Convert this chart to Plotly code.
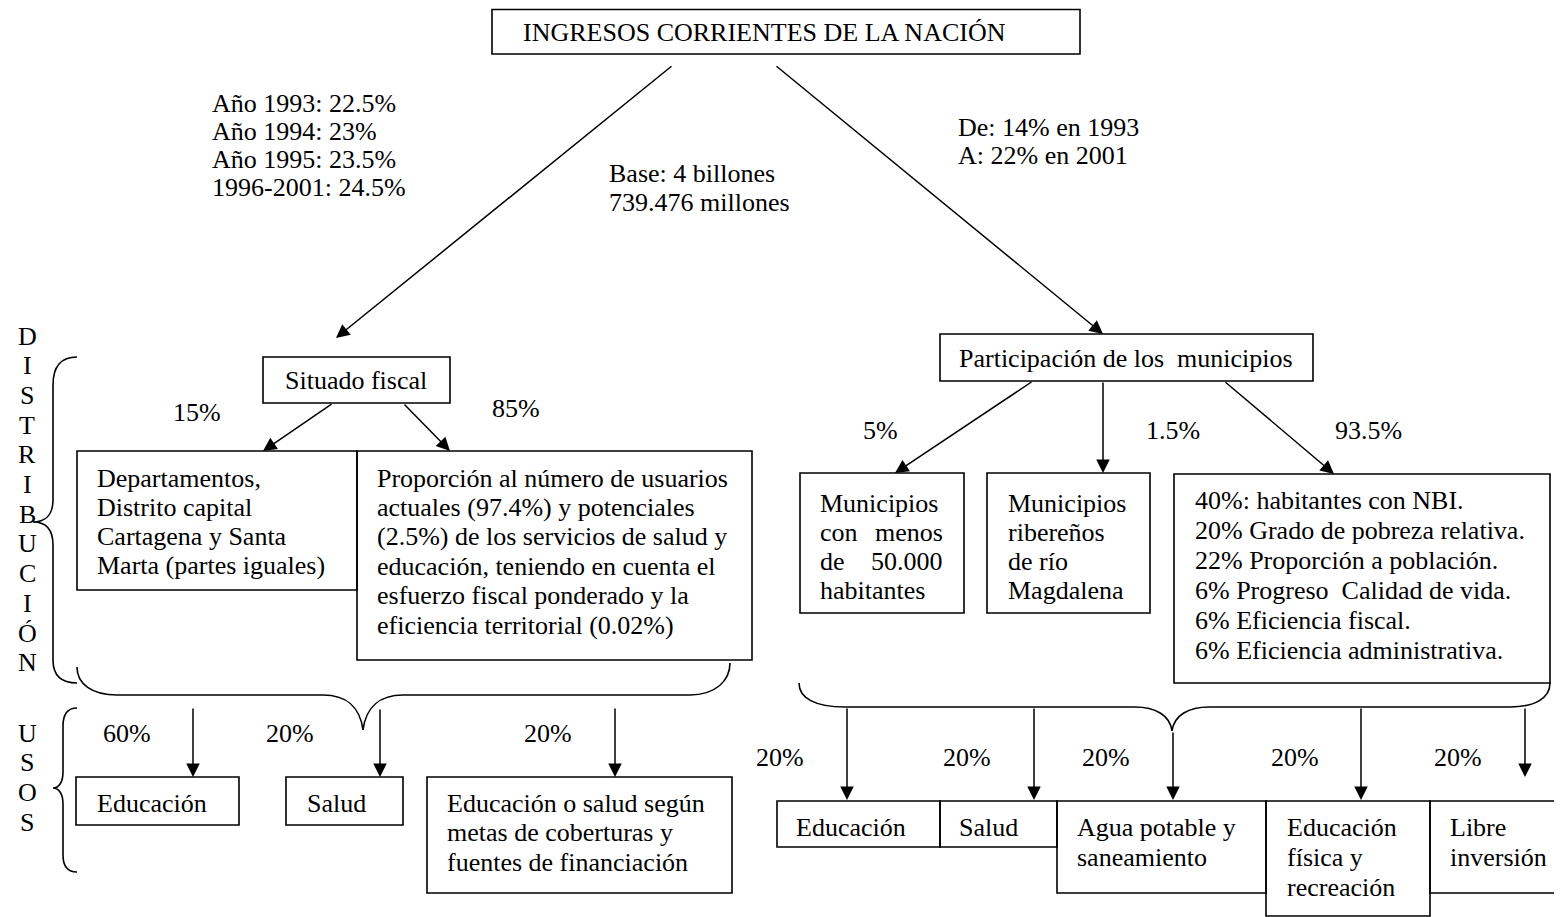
import plotly.graph_objects as go

# ---------------- content (texts and percentages) ----------------
TITLE = "INGRESOS CORRIENTES DE LA NACIÓN"
SITUADO_SHARE = ["Año 1993: 22.5%", "Año 1994: 23%", "Año 1995: 23.5%", "1996-2001: 24.5%"]
BASE = ["Base: 4 billones", "739.476 millones"]
PARTICIPACION_SHARE = ["De: 14% en 1993", "A: 22% en 2001"]
NODE_SITUADO = "Situado fiscal"
NODE_PART = "Participación de los\u00a0 municipios"
SITUADO_SPLIT_PCT = ["15%", "85%"]
DEPARTAMENTOS = ["Departamentos,", "Distrito capital", "Cartagena y Santa", "Marta (partes iguales)"]
PROPORCION = ["Proporción al número de usuarios",
              "actuales (97.4%) y potenciales",
              "(2.5%) de los servicios de salud y",
              "educación, teniendo en cuenta el",
              "esfuerzo fiscal ponderado y la",
              "eficiencia territorial (0.02%)"]
PART_SPLIT_PCT = ["5%", "1.5%", "93.5%"]
MUNI_MENOS = [["Municipios"], ["con", "menos"], ["de", "50.000"], ["habitantes"]]
MUNI_RIBERENOS = ["Municipios", "ribereños", "de río", "Magdalena"]
CRITERIOS = ["40%: habitantes con NBI.",
             "20% Grado de pobreza relativa.",
             "22% Proporción a población.",
             "6% Progreso\u00a0 Calidad de vida.",
             "6% Eficiencia fiscal.",
             "6% Eficiencia administrativa."]
USOS_SITUADO = [["Educación"], ["Salud"],
                ["Educación o salud según", "metas de coberturas y", "fuentes de financiación"]]
USOS_SITUADO_PCT = ["60%", "20%", "20%"]
USOS_PART = [["Educación"], ["Salud"], ["Agua potable y", "saneamiento"],
             ["Educación", "física y", "recreación"], ["Libre", "inversión"]]
USOS_PART_PCT = ["20%", "20%", "20%", "20%", "20%"]
SIDE_DISTRIBUCION = "DISTRIBUCIÓN"
SIDE_USOS = "USOS"

# ---------------- layout geometry (pixel space) ----------------
FONT = "Liberation Serif"
FS = 26
W, H = 1562, 917
PAGE_MARGIN = 8  # default body margin of the html page
LW = 1.6

shapes = []
annotations = []


def rect(x0, y0, x1, y1):
    shapes.append(dict(type="rect", xref="x", yref="y", x0=x0, y0=y0, x1=x1, y1=y1,
                       line=dict(color="black", width=LW), fillcolor="rgba(0,0,0,0)"))


def path(d):
    shapes.append(dict(type="path", xref="x", yref="y", path=d,
                       line=dict(color="black", width=LW)))


def text(x, y, s, anchor="left"):
    annotations.append(dict(x=x, y=y, xref="x", yref="y", text=s, showarrow=False,
                            xanchor=anchor, yanchor="middle",
                            font=dict(family=FONT, size=FS, color="black")))


def arrow(x0, y0, x1, y1):
    annotations.append(dict(x=x1, y=y1, ax=x0, ay=y0, xref="x", yref="y",
                            axref="x", ayref="y", text="", showarrow=True,
                            arrowhead=2, arrowsize=1.8, arrowwidth=1.5,
                            arrowcolor="black", standoff=0, startstandoff=0))


# title
rect(492, 9.5, 1080, 54)
text(764, 32, TITLE, "center")

# top texts
for i, s in enumerate(SITUADO_SHARE):
    text(210, 103 + i * 28.2, s)
for i, s in enumerate(BASE):
    text(607, 173 + i * 29, s)
for i, s in enumerate(PARTICIPACION_SHARE):
    text(956, 127 + i * 28, s)

# main arrows
arrow(673, 65, 336, 338)
arrow(775, 65, 1103, 334)

# Situado fiscal
rect(263, 357, 450, 403)
text(356, 380, NODE_SITUADO, "center")
arrow(333, 403, 263, 451)
arrow(403, 403, 450, 451)
text(197, 412, SITUADO_SPLIT_PCT[0], "center")
text(516, 408, SITUADO_SPLIT_PCT[1], "center")

rect(77, 451, 357, 590)
for i, s in enumerate(DEPARTAMENTOS):
    text(95, 478 + i * 29.2, s)
rect(357, 451, 752, 660)
for i, s in enumerate(PROPORCION):
    text(375, 478 + i * 29.4, s)

# Participación de los municipios
rect(940, 334, 1313, 381)
text(1126, 358, NODE_PART, "center")
arrow(1033, 381, 895, 473)
arrow(1103, 381, 1103, 473)
arrow(1224, 381, 1334, 474)
for x, s in zip([880, 1173, 1368], PART_SPLIT_PCT):
    text(x, 430, s, "center")

rect(800, 473, 964, 613)
for i, words in enumerate(MUNI_MENOS):
    y = 503 + i * 29
    text(818, y, words[0])
    if len(words) > 1:
        text(945, y, words[1], "right")
rect(987, 473, 1150, 613)
for i, s in enumerate(MUNI_RIBERENOS):
    text(1006, 503 + i * 29, s)
rect(1174, 474, 1550, 683)
for i, s in enumerate(CRITERIOS):
    text(1193, 500 + i * 30, s)

# side labels with braces
for i, ch in enumerate(SIDE_DISTRIBUCION):
    text(27, 336 + i * 29.7, ch, "center")
for i, ch in enumerate(SIDE_USOS):
    text(27, 733 + i * 29.8, ch, "center")
path("M77,357 C62,357 53,365 53,385 L53,500 C53,514 46,522 33,522 "
     "C46,522 53,530 53,545 L53,660 C53,676 62,683 77,683")
path("M77,708 C68,708 63,714 63,726 L63,772 C63,782 59,788 53,788 "
     "C59,788 63,794 63,804 L63,855 C63,866 68,872 77,872")

# horizontal braces
path("M77,667 C77,684 92,695 117,695 L323,695 C345,695 360,706 363,730 "
     "C366,706 381,695 403,695 L690,695 C715,695 730,681 730,663")
path("M799,683 C799,698 815,707 845,707 L1135,707 C1155,707 1170,715 1172,731 "
     "C1174,715 1189,707 1209,707 L1510,707 C1535,707 1550,698 1550,683")

# usos - situado fiscal
for x, s in zip([127, 290, 548], USOS_SITUADO_PCT):
    text(x, 733, s, "center")
arrow(193, 707, 193, 777)
arrow(380, 708, 380, 777)
arrow(615, 707, 615, 777)
rect(76, 777, 239, 825)
rect(286, 777, 403, 825)
rect(427, 777, 732, 893)
for (x0, lines) in zip([95, 305, 445], USOS_SITUADO):
    for i, s in enumerate(lines):
        text(x0, 803 + i * 29.5, s)

# usos - participación
for x, s in zip([780, 967, 1106, 1295, 1458], USOS_PART_PCT):
    text(x, 757, s, "center")
arrow(847, 707, 847, 800)
arrow(1034, 707, 1034, 800)
arrow(1173, 731, 1173, 800)
arrow(1361, 707, 1361, 800)
arrow(1525, 707, 1525, 777)
rect(777, 801, 940, 847)
rect(940, 801, 1057, 847)
rect(1057, 801, 1266, 893)
rect(1266, 801, 1430, 916)
rect(1430, 801, 1580, 893)
for (x0, lines) in zip([794, 957, 1075, 1285, 1448], USOS_PART):
    for i, s in enumerate(lines):
        text(x0, 827 + i * 30, s)

fig = go.Figure()
fig.update_layout(
    width=W, height=H,
    margin=dict(l=0, r=0, t=0, b=0),
    paper_bgcolor="white", plot_bgcolor="white",
    xaxis=dict(range=[PAGE_MARGIN, W + PAGE_MARGIN], visible=False, fixedrange=True),
    yaxis=dict(range=[H + PAGE_MARGIN, PAGE_MARGIN], visible=False, fixedrange=True),
    shapes=shapes, annotations=annotations, showlegend=False,
)
fig.write_html("out.html", config={"displayModeBar": False})
